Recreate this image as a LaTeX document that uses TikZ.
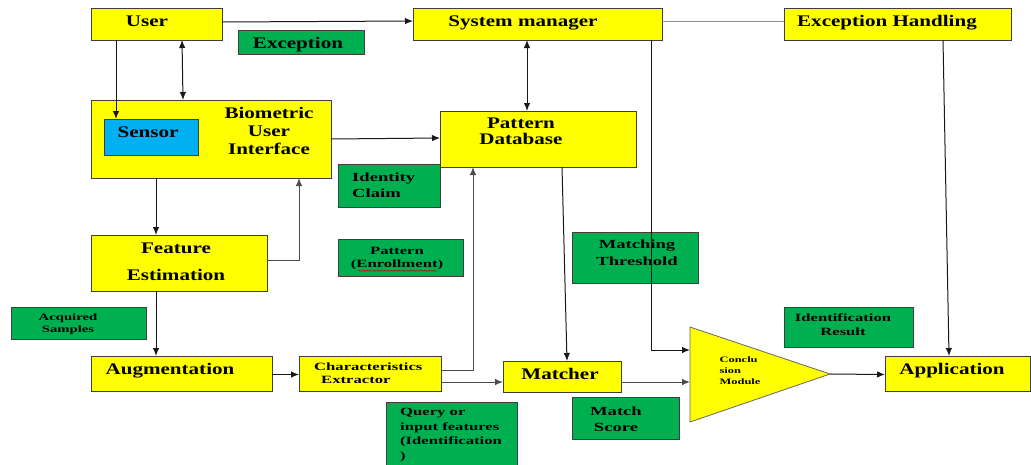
\documentclass[tikz,border=0pt]{standalone}
\usepackage{fontspec}
\usetikzlibrary{arrows.meta,decorations.pathmorphing}
\newfontfamily\dgA{Liberation Serif}[FakeStretch=1.3]
\newfontfamily\dgB{Liberation Serif}[FakeStretch=1.5]
\definecolor{byel}{HTML}{FFFF00}
\definecolor{bgrn}{HTML}{00B050}
\definecolor{bblu}{HTML}{00B0F0}
\definecolor{bedge}{HTML}{3F3F3F}
\begin{document}
\begin{tikzpicture}[x=1pt,y=-1pt,
 box/.style={draw=bedge, line width=0.8pt, inner sep=0pt, outer sep=0pt, anchor=north west},
 ybox/.style={box, fill=byel},
 gbox/.style={box, fill=bgrn},
 sbox/.style={box, fill=bblu},
 tA/.style={inner sep=0pt, text depth=0pt, font=\dgA\bfseries\fontsize{16.2}{18}\selectfont, align=center},
 tB/.style={inner sep=0pt, text depth=0pt, font=\dgB\bfseries\fontsize{12.4}{16}\selectfont, align=center},
 tC/.style={inner sep=0pt, text depth=0pt, font=\dgB\bfseries\fontsize{11.1}{13}\selectfont, align=center},
 tD/.style={inner sep=0pt, text depth=0pt, font=\dgB\bfseries\fontsize{9.8}{11.5}\selectfont, align=center},
 tE/.style={inner sep=0pt, text depth=0pt, font=\dgB\bfseries\fontsize{8.3}{11}\selectfont, align=left},
 conn/.style={draw=black!90, line width=1pt},
 lconn/.style={draw=black!45, line width=1pt},
 mconn/.style={draw=black!70, line width=1pt},
 tip/.style={-{Latex[length=8pt,width=6.5pt]}},
 dtip/.style={{Latex[length=8pt,width=6.5pt]}-{Latex[length=8pt,width=6.5pt]}},
]
\useasboundingbox (0,0) rectangle (1031,464);
\clip (0,0) rectangle (1031,464);

% boxes
\node[ybox, minimum width=131pt, minimum height=32pt] (user) at (91,8) {};
\node[gbox, minimum width=126pt, minimum height=24pt] (exc) at (238,30) {};
\node[ybox, minimum width=249pt, minimum height=32pt] (sysm) at (413,8) {};
\node[ybox, minimum width=227pt, minimum height=32pt] (exch) at (784,8) {};
\node[ybox, minimum width=240pt, minimum height=78pt] (bui) at (91,100) {};
\node[sbox, minimum width=94pt, minimum height=36pt] (sensor) at (104,119) {};
\node[gbox, minimum width=102pt, minimum height=43pt] (idc) at (338,164) {};
\node[ybox, minimum width=196pt, minimum height=56pt] (pdb) at (440,111) {};
\node[ybox, minimum width=176pt, minimum height=56pt] (fe) at (91,235) {};
\node[gbox, minimum width=125pt, minimum height=37pt] (pen) at (338,239) {};
\node[gbox, minimum width=126pt, minimum height=51pt] (mth) at (572,232) {};
\node[gbox, minimum width=135pt, minimum height=32pt] (acq) at (11,307) {};
\node[ybox, minimum width=181pt, minimum height=35pt] (aug) at (91,356) {};
\node[ybox, minimum width=142pt, minimum height=35pt] (chx) at (299,356) {};
\node[ybox, minimum width=118pt, minimum height=31pt] (mat) at (503,361) {};
\node[gbox, minimum width=131pt, minimum height=70pt] (qry) at (386,402) {};
\node[gbox, minimum width=107pt, minimum height=42pt] (msc) at (572,397) {};
\node[gbox, minimum width=129pt, minimum height=40pt] (idr) at (784,307) {};
\node[ybox, minimum width=145pt, minimum height=35pt] (app) at (885,356) {};

% conclusion module triangle
\coordinate (cA) at (690,327);
\coordinate (cB) at (830,374);
\coordinate (cC) at (690,422);
\coordinate (concIn1) at (690,350);
\coordinate (concIn2) at (690,382);
\draw[draw=black!60, line width=0.8pt, fill=byel] (cA) -- (cB) -- (cC) -- cycle;

% texts
\node[tA] (tuser) at (147,21) {User};
\node[tA] (texc) at (298,43) {Exception};
\node[tA] (tsysm) at (523,21) {System manager};
\node[tA] (texch) at (887,21) {Exception Handling};
\node[tA] (tbui) at (269,131) {Biometric\\User\\Interface};
\node[tA] (tsensor) at (148,132) {Sensor};
\node[tA, font=\dgA\bfseries\fontsize{16.2}{16}\selectfont] (tpdb) at (521,131) {Pattern\\Database};
\node[tB, align=left, anchor=west] (tidc) at (352,185) {Identity\\Claim};
\node[tA, font=\dgA\bfseries\fontsize{16.2}{27}\selectfont] (tfe) at (176,262) {Feature\\Estimation};
\node[tC] (tpen) at (397,257.5) {Pattern\\(Enrollment)};
\node[tB, font=\dgB\bfseries\fontsize{12.4}{17}\selectfont] (tmth) at (637,252.5) {Matching\\Threshold};
\node[tD] (tacq) at (68,323) {Acquired\\Samples};
\node[tA] (taug) at (170,369) {Augmentation};
\node[tC, align=left, anchor=west] (tchx) at (314,373.5) {Characteristics\\\hspace*{7pt}Extractor};
\node[tA] (tmat) at (560,374) {Matcher};
\node[tC, align=left, anchor=north west, font=\dgB\bfseries\fontsize{11.1}{14.7}\selectfont] (tqry) at (400,408) {Query or\\input features\\(Identification\\)};
\node[tB] (tmsc) at (616,419) {Match\\Score};
\node[tC, font=\dgB\bfseries\fontsize{11.1}{13.5}\selectfont] (tidr) at (843,324.5) {Identification\\Result};
\node[tE] (tconc) at (740,371) {Conclu\\sion\\Module};
\node[tA] (tapp) at (952,369) {Application};
\draw[red!80!black, line width=0.4pt, decorate, decoration={snake, amplitude=0.6pt, segment length=2.5pt}]
  ([xshift=8pt,yshift=-3pt]tpen.south west) -- ([xshift=-6pt,yshift=-3pt]tpen.south east);

% connectors
\draw[conn, tip] ([yshift=2pt]user.east) -- ([yshift=3pt]sysm.west);
\draw[lconn] ([yshift=3pt]sysm.east) -- ([yshift=3pt]exch.west);
\draw[conn, tip] ([xshift=25pt]user.south west) -- ([xshift=12pt]sensor.north west);
\draw[conn, dtip] ([xshift=91pt]user.south west) -- ([xshift=92pt]bui.north west);
\draw[conn, tip] (bui.east) -- ([yshift=1pt]pdb.west);
\draw[conn, dtip] ([xshift=114pt]sysm.south west) -- ([xshift=87pt]pdb.north west);
\draw[conn, tip] ([xshift=65pt]bui.south west) -- ([xshift=65pt]fe.north west);
\draw[mconn, tip] ([yshift=3pt]fe.east) -| ([xshift=208pt]bui.south west);
\draw[conn, tip] ([xshift=65pt]fe.south west) -- ([xshift=65pt]aug.north west);
\draw[conn, tip] ([yshift=-1pt]aug.east) -- ([yshift=-1pt]chx.west);
\draw[mconn, tip] ([yshift=3.5pt]chx.east) -| ([xshift=33pt]pdb.south west);
\draw[mconn, tip] ([yshift=-8.5pt]chx.east) -- ([yshift=-5.5pt]mat.west);
\draw[conn, tip] ([xshift=122pt]pdb.south west) -- ([xshift=64pt]mat.north west);
\draw[conn, tip] ([xshift=238pt]sysm.south west) |- (concIn1);
\draw[mconn, tip] ([yshift=-5.5pt]mat.east) -- (concIn2);
\draw[conn, tip] (cB) -- ([yshift=-1pt]app.west);
\draw[conn, tip] ([xshift=159pt]exch.south west) -- ([xshift=64pt]app.north west);
\end{tikzpicture}
\end{document}
